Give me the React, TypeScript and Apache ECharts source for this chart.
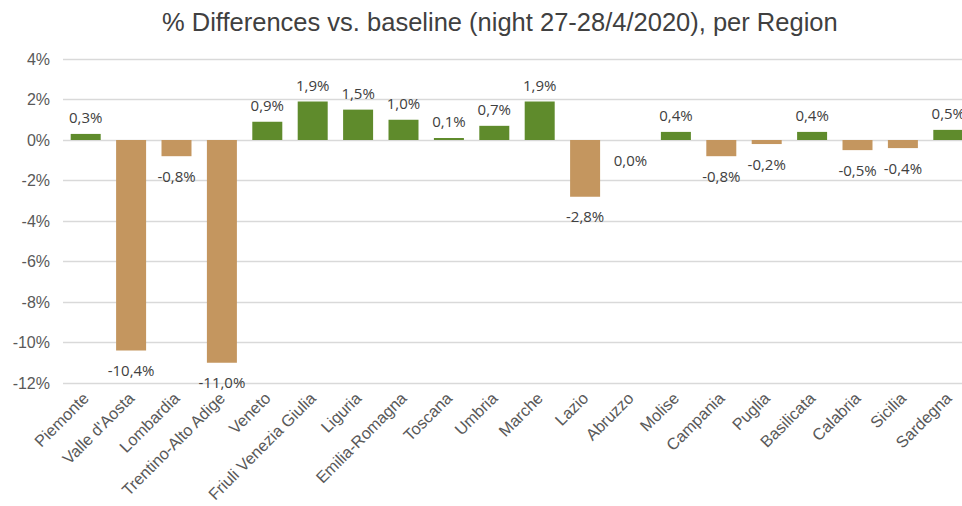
import React, { useEffect, useRef } from "react";
import * as echarts from "echarts";

const regions: string[] = [
  "Piemonte",
  "Valle d'Aosta",
  "Lombardia",
  "Trentino-Alto Adige",
  "Veneto",
  "Friuli Venezia Giulia",
  "Liguria",
  "Emilia-Romagna",
  "Toscana",
  "Umbria",
  "Marche",
  "Lazio",
  "Abruzzo",
  "Molise",
  "Campania",
  "Puglia",
  "Basilicata",
  "Calabria",
  "Sicilia",
  "Sardegna",
];

// % difference vs. baseline, one value per region
const diffPct: number[] = [
  0.3, -10.4, -0.8, -11.0, 0.9, 1.9, 1.5, 1.0, 0.1, 0.7, 1.9, -2.8, 0.0, 0.4,
  -0.8, -0.2, 0.4, -0.5, -0.4, 0.5,
];

const titleText = "% Differences vs. baseline (night 27-28/4/2020), per Region";

const GREEN = "#5f8b2c";
const TAN = "#c4965f";

const fmt = (v: number) => v.toFixed(1).replace(".", ",") + "%";

export default function App() {
  const ref = useRef<HTMLDivElement>(null);

  useEffect(() => {
    if (!ref.current) return;
    const chart = echarts.init(ref.current, undefined, { renderer: "svg" });

    const data = diffPct.map((v) => ({
      value: v,
      itemStyle: { color: v > 0 ? GREEN : TAN },
      label: {
        position: v > 0 ? "top" : "bottom",
        distance: v > 0 ? 9 : 12,
      },
    }));

    chart.setOption({
      animation: false,
      backgroundColor: "#ffffff",
      title: {
        text: titleText,
        left: 157,
        top: 4,
        textStyle: {
          fontFamily: "Liberation Sans, Arial, sans-serif",
          fontSize: 25.5,
          fontWeight: "normal",
          color: "#404040",
        },
      },
      grid: { left: 63, right: 14, top: 59, bottom: 123 },
      xAxis: {
        type: "category",
        data: regions,
        axisLine: { show: false, onZero: false },
        axisTick: { show: false },
        axisLabel: {
          rotate: 45,
          interval: 0,
          margin: 12,
          fontFamily: "Liberation Sans, Arial, sans-serif",
          fontSize: 16.3,
          color: "#595959",
        },
      },
      yAxis: {
        type: "value",
        min: -12,
        max: 4,
        interval: 2,
        axisLine: { show: false },
        axisTick: { show: false },
        splitLine: { lineStyle: { color: "#d9d9d9", width: 1.3 } },
        axisLabel: {
          formatter: "{value}%",
          margin: 13,
          fontFamily: "Liberation Sans, Arial, sans-serif",
          fontSize: 16,
          color: "#595959",
        },
      },
      series: [
        {
          type: "bar",
          data,
          barWidth: 30,
          label: {
            show: true,
            formatter: (p: any) => fmt(p.value),
            fontFamily: "Open Sans, sans-serif",
            fontSize: 15,
            color: "#404040",
          },
        },
      ],
    });

    return () => chart.dispose();
  }, []);

  return (
    <div
      style={{
        position: "fixed",
        left: 0,
        top: 0,
        width: 962,
        height: 506,
        overflow: "hidden",
        background: "#fff",
      }}
    >
      <div ref={ref} style={{ width: 985, height: 506 }} />
    </div>
  );
}
